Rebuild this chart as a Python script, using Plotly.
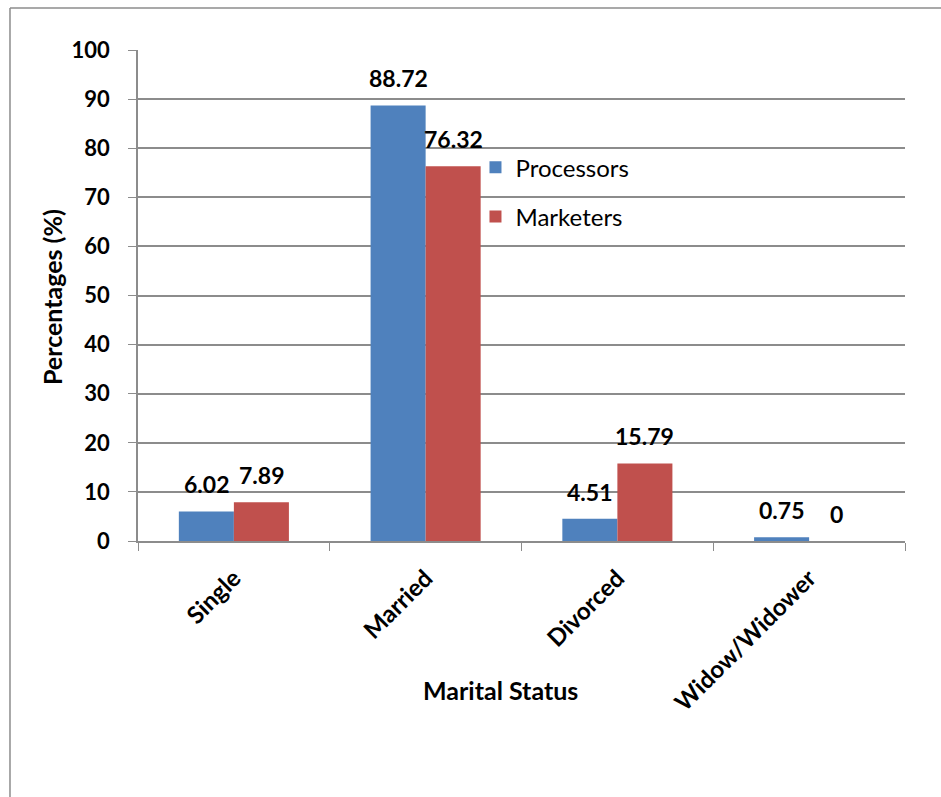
import plotly.graph_objects as go

# Marital status of respondents (percentages)
categories = ["Single", "Married", "Divorced", "Widow/Widower"]
processors = [6.02, 88.72, 4.51, 0.75]
marketers = [7.89, 76.32, 15.79, 0]
series_names = ["Processors", "Marketers"]
y_ticks = [0, 10, 20, 30, 40, 50, 60, 70, 80, 90, 100]

BLUE = "#4F81BD"
RED = "#C0504D"
GRID = "#8C8C8C"
FONT = "Lato"

W, H = 941, 797
M_L, M_R, M_T, M_B = 138, 36, 50, 256
BARGAP = 0.426

fig = go.Figure()
for name, vals, col in [(series_names[0], processors, BLUE), (series_names[1], marketers, RED)]:
    fig.add_trace(go.Bar(
        x=categories, y=vals, name=name, legendgroup=name,
        marker=dict(color=col, line=dict(width=0)),
    ))

# Value labels above each bar
plot_w = W - M_L - M_R
bar_px = plot_w / len(categories) * (1 - BARGAP) / 2
for vals, shift in [(processors, -bar_px / 2), (marketers, bar_px / 2)]:
    for c, v in zip(categories, vals):
        fig.add_annotation(
            x=c, y=v, xref="x", yref="y", text=f"{v:g}",
            showarrow=False, xshift=shift, yshift=27, yanchor="middle",
            font=dict(family=FONT, size=23, color="black", weight="bold"),
        )

# Axis titles
fig.add_annotation(
    x=-0.112, y=0.497, xref="paper", yref="paper", text="Percentages (%)",
    textangle=-90, showarrow=False, xanchor="center", yanchor="middle",
    font=dict(family=FONT, size=25, color="black", weight="bold"),
)
fig.add_annotation(
    x=0.473, y=-0.3035, xref="paper", yref="paper", text="Marital Status",
    showarrow=False, xanchor="center", yanchor="middle",
    font=dict(family=FONT, size=25, color="black", weight="bold"),
)

# Outer chart frame (top and left edges)
fig.add_shape(type="line", xref="paper", yref="paper", x0=-0.1669, x1=1.1, y0=1.0855, y1=1.0855,
              line=dict(color="#8C8C8C", width=1.5))
fig.add_shape(type="line", xref="paper", yref="paper", x0=-0.1669, x1=-0.1669, y0=1.0855, y1=-0.6,
              line=dict(color="#8C8C8C", width=1.5))

fig.update_layout(
    width=W, height=H,
    margin=dict(l=M_L, r=M_R, t=M_T, b=M_B),
    paper_bgcolor="white", plot_bgcolor="white",
    barmode="group", bargap=BARGAP, bargroupgap=0,
    font=dict(family=FONT, color="black"),
    showlegend=True,
    legend=dict(
        x=0.44, y=0.806, xanchor="left", yanchor="top",
        font=dict(family=FONT, size=24, color="black"),
        traceorder="grouped", tracegroupgap=15,
        bgcolor="rgba(0,0,0,0)",
    ),
    xaxis=dict(
        tickangle=-45, tickfont=dict(family=FONT, size=24, color="black", weight="bold"),
        ticks="outside", tickson="boundaries", ticklen=8, tickcolor=GRID,
        ticklabelstandoff=12,
        showline=True, linecolor=GRID, linewidth=1.5,
        showgrid=False, fixedrange=True,
    ),
    yaxis=dict(
        range=[0, 100], tickvals=y_ticks,
        tickfont=dict(family=FONT, size=22, color="black", weight="bold"),
        ticks="outside", ticklen=8, tickcolor=GRID,
        ticklabelstandoff=14,
        showline=True, linecolor=GRID, linewidth=1.5,
        showgrid=True, gridcolor=GRID, gridwidth=1.5,
        zeroline=False, fixedrange=True,
    ),
)

fig.write_html("out.html")
